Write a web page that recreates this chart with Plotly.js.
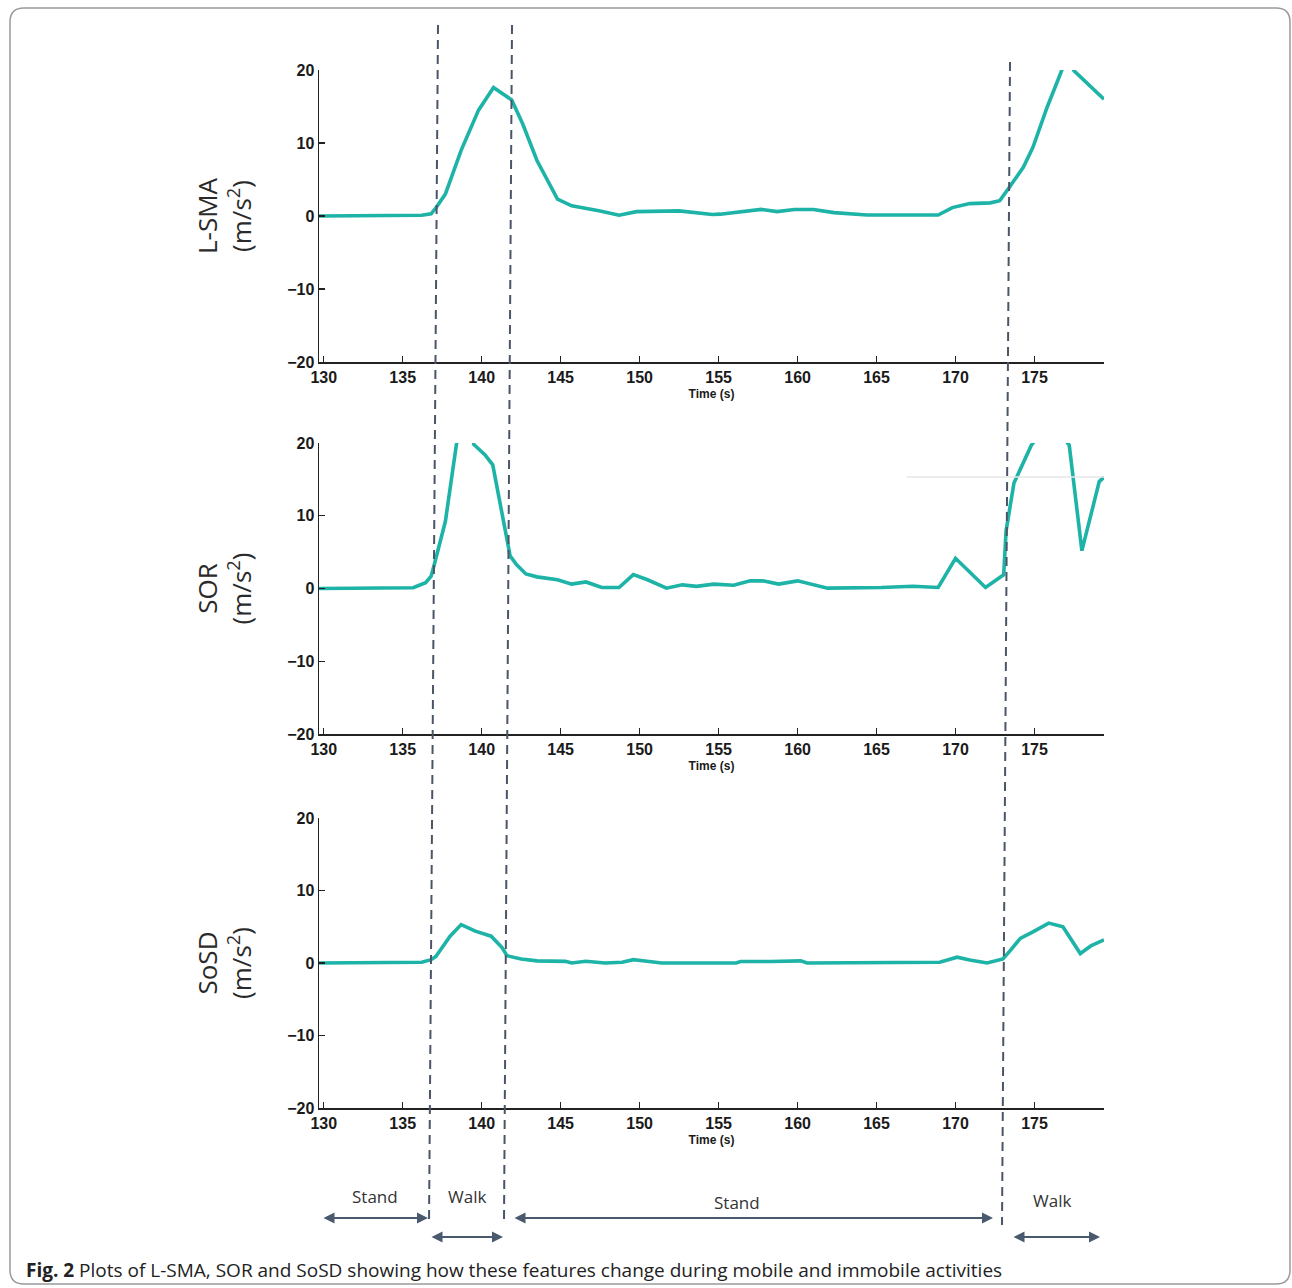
<!DOCTYPE html>
<html>
<head>
<meta charset="utf-8">
<script src="https://cdn.plot.ly/plotly-3.0.1.min.js"></script>
<style>html,body{margin:0;padding:0;background:#fff;}#chart{width:1292px;height:1288px;}</style>
</head>
<body>
<div id="chart"></div>
<script>
// ---- data (time in s, values in m/s^2) ----
const lsmaTime = [129.7,136.2,136.8,137.1,137.7,138.7,139.8,140.75,141.9,142.6,143.5,144.8,145.7,147.5,148.7,149.8,152.5,154.6,155.1,156.4,157.7,158.7,159.8,161.0,162.3,164.4,166.5,168.9,169.8,170.9,172.2,172.8,173.4,174.3,174.9,175.8,176.7,177.1,177.5,179.4];
const lsmaVals = [0,0.1,0.3,1.1,3.0,9.0,14.5,17.6,15.9,12.6,7.6,2.3,1.4,0.7,0.1,0.6,0.7,0.2,0.25,0.6,0.9,0.6,0.9,0.9,0.46,0.14,0.14,0.14,1.15,1.7,1.8,2.1,3.9,6.7,9.4,14.9,19.8,22.5,19.9,16.0];

const sorTime = [129.7,135.66,136.45,136.8,137.0,137.7,138.4,139.0,139.5,140.2,140.7,141.3,141.8,142.2,142.8,143.5,144.8,145.7,146.6,147.6,148.7,149.6,150.5,151.7,152.7,153.6,154.7,155.95,157.0,157.8,158.8,160.0,160.8,161.9,165.3,167.3,168.9,170.0,171.9,173.05,173.2,173.7,174.8,176.0,177.2,178.0,179.1,179.4];
const sorVals = [0,0.1,0.8,1.7,3.3,9.2,19.8,26,19.8,18.4,17.0,10.2,4.5,3.3,2.0,1.6,1.2,0.6,0.9,0.14,0.14,1.9,1.2,0.05,0.5,0.3,0.6,0.45,1.05,1.05,0.6,1.05,0.6,0.05,0.14,0.3,0.14,4.15,0.14,1.9,7.9,14.5,19.7,23,19.7,5.2,14.7,15.3];

const sosdTime = [129.7,136.2,136.8,137.1,138.0,138.7,139.6,140.6,141.3,141.6,142.5,143.5,145.3,145.7,146.6,147.8,148.9,149.6,150.2,151.4,156.1,156.4,158.3,159.3,160.2,160.6,169.0,170.1,170.9,172.0,173.0,173.5,174.1,174.9,175.9,176.8,177.9,178.6,179.4];
const sosdVals = [0,0.1,0.46,0.9,3.7,5.3,4.4,3.7,2.1,1.0,0.55,0.3,0.23,0,0.23,0,0.1,0.46,0.3,0,0,0.2,0.2,0.2,0.3,0,0.1,0.8,0.4,0,0.55,1.8,3.4,4.3,5.5,5.0,1.3,2.4,3.2];

const yTitles = ['L-SMA', 'SOR', 'SoSD'];
const xTickVals = [130,135,140,145,150,155,160,165,170,175];
const yTickVals = [-20,-10,0,10,20];
const xTitle = 'Time (s)';
const activities = ['Stand', 'Walk', 'Stand', 'Walk'];
const caption = 'Plots of L-SMA, SOR and SoSD showing how these features change during mobile and immobile activities';
const figLabel = 'Fig. 2';

// ---- layout helpers ----
const W = 1292, H = 1288;
const px = v => v / W;
const py = v => 1 - v / H;
const teal = '#1db3a7';
const dashCol = '#4a5568';

const series = [[lsmaTime, lsmaVals], [sorTime, sorVals], [sosdTime, sosdVals]];
const traces = series.map((s, i) => ({
  x: s[0], y: s[1], type: 'scatter', mode: 'lines',
  line: {color: teal, width: 3.6},
  xaxis: i === 0 ? 'x' : 'x' + (i + 1),
  yaxis: i === 0 ? 'y' : 'y' + (i + 1),
  hoverinfo: 'skip', showlegend: false
}));

const panels = [[70, 362], [443, 734], [818, 1108]];
const layout = {
  width: W, height: H,
  margin: {l: 0, r: 0, t: 0, b: 0},
  paper_bgcolor: '#fff', plot_bgcolor: 'rgba(0,0,0,0)',
  showlegend: false,
  shapes: [], annotations: []
};
const tickFont = {family: 'Liberation Sans, Arial, sans-serif', size: 16, color: '#1a1a1a', weight: 'bold'};
panels.forEach((p, i) => {
  const sfx = i === 0 ? '' : String(i + 1);
  layout['xaxis' + sfx] = {
    domain: [px(319), px(1104)], anchor: 'y' + sfx,
    range: [129.7, 179.4], tickvals: xTickVals, ticktext: xTickVals.map(String),
    showline: true, linecolor: '#222', linewidth: 1.5, mirror: false,
    ticks: 'inside', ticklen: 6, tickwidth: 1.2, tickcolor: '#222',
    showgrid: false, zeroline: false, tickfont: tickFont,
    title: {text: xTitle, font: {family: 'Liberation Sans, Arial, sans-serif', size: 12, color: '#1a1a1a', weight: 'bold'}, standoff: 5}
  };
  layout['yaxis' + sfx] = {
    domain: [py(p[1]), py(p[0])], anchor: 'x' + sfx,
    range: [-20, 20], tickvals: yTickVals,
    showline: true, linecolor: '#222', linewidth: 1.5,
    ticks: 'inside', ticklen: 6, tickwidth: 1.2, tickcolor: '#222',
    showgrid: false, zeroline: false, tickfont: tickFont,
    title: {text: yTitles[i] + '<br>(m/s<sup>2</sup>)', font: {family: 'Open Sans, sans-serif', size: 26, color: '#2a2a2a'}, standoff: 28}
  };
});

// dashed activity boundaries spanning all panels
[[438, 25, 429, 1225], [512, 25, 504, 1222], [1010, 62, 1002, 1225]].forEach(d => {
  layout.shapes.push({type: 'line', xref: 'paper', yref: 'paper',
    x0: px(d[0]), y0: py(d[1]), x1: px(d[2]), y1: py(d[3]),
    line: {color: dashCol, width: 2, dash: '9px,6px'}});
});
// faint artifact line in middle panel
layout.shapes.push({type: 'line', xref: 'paper', yref: 'paper', x0: px(907), x1: px(1104), y0: py(477), y1: py(477),
  line: {color: '#e6e6e6', width: 1.5}});

// outer frame with rounded corners
const r = 14, L = 10, T = 8, R = 1290, B = 1284;
layout.shapes.push({type: 'path', xref: 'paper', yref: 'paper',
  path: `M ${px(L)},${py(T + r)} Q ${px(L)},${py(T)} ${px(L + r)},${py(T)} L ${px(R - r)},${py(T)} Q ${px(R)},${py(T)} ${px(R)},${py(T + r)} L ${px(R)},${py(B - r)} Q ${px(R)},${py(B)} ${px(R - r)},${py(B)} L ${px(L + r)},${py(B)} Q ${px(L)},${py(B)} ${px(L)},${py(B - r)} Z`,
  line: {color: '#9a9a9a', width: 1.5}});

// activity labels and arrows
const labelPos = [[375, 1196], [467, 1196], [737, 1202], [1052, 1200]];
activities.forEach((a, i) => {
  layout.annotations.push({xref: 'paper', yref: 'paper', x: px(labelPos[i][0]), y: py(labelPos[i][1]),
    xanchor: 'center', yanchor: 'middle',
    text: a, showarrow: false, font: {family: 'Open Sans, sans-serif', size: 17, color: '#333'}});
});
const arrows = [[322, 428, 1218], [430, 503, 1237], [513, 993, 1218], [1012, 1100, 1237]];
arrows.forEach(a => {
  layout.annotations.push({xref: 'paper', yref: 'paper', x: px(a[1]), y: py(a[2]),
    ax: -(a[1] - a[0]), ay: 0, axref: 'pixel', ayref: 'pixel', text: '', showarrow: true,
    arrowside: 'end+start', arrowhead: 2, arrowsize: 1, arrowwidth: 2.2, arrowcolor: '#4a5a6e', standoff: 0, startstandoff: 0});
});

// caption
layout.annotations.push({xref: 'paper', yref: 'paper', x: px(24), y: py(1270), xanchor: 'left', yanchor: 'middle',
  text: '<b>' + figLabel + '</b> ' + caption, showarrow: false,
  font: {family: 'Open Sans, sans-serif', size: 19, color: '#222'}});

Plotly.newPlot('chart', traces, layout, {staticPlot: true, displayModeBar: false});
</script>
</body>
</html>
